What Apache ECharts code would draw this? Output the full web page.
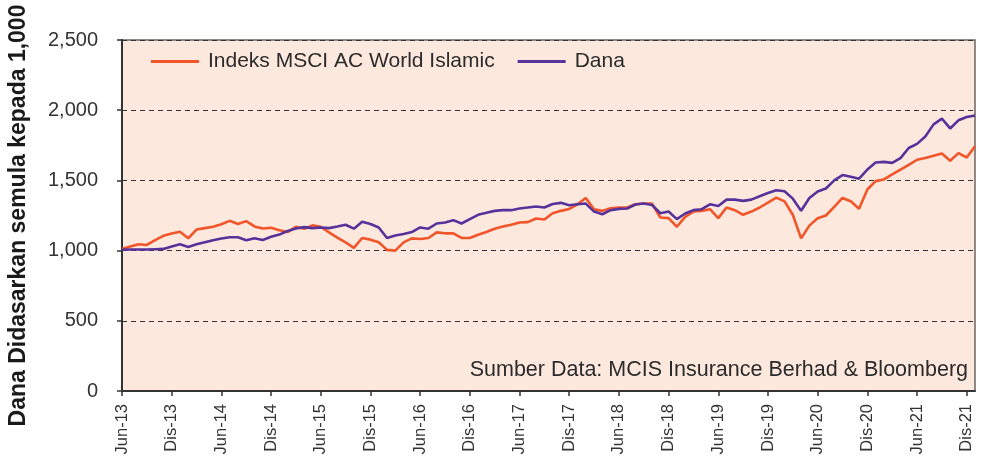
<!DOCTYPE html>
<html>
<head>
<meta charset="utf-8">
<script src="https://cdn.jsdelivr.net/npm/echarts@6/dist/echarts.min.js"></script>
<style>
html,body{margin:0;padding:0;background:#ffffff;}
#chart{width:984px;height:465px;}
</style>
</head>
<body>
<div id="chart"></div>
<script>
// Month names (Malay) used to build the monthly category axis Jun-13 .. Jan-22
var monthNames = ['Jan','Feb','Mac','Apr','Mei','Jun','Jul','Ogo','Sep','Okt','Nov','Dis'];
var startYear = 2013, startMonth = 5, monthCount = 104;

var seriesNames = ['Indeks MSCI AC World Islamic', 'Dana'];

var msciValues = [1012,1030,1045,1040,1075,1105,1122,1135,1088,1150,1160,1170,1188,1212,1190,1210,1172,1157,1163,1145,1132,1170,1155,1180,1170,1130,1093,1059,1019,1090,1078,1059,1005,1000,1059,1087,1083,1090,1130,1123,1123,1090,1090,1113,1132,1156,1172,1184,1200,1203,1229,1222,1266,1283,1297,1330,1375,1295,1283,1302,1307,1307,1330,1335,1335,1236,1231,1170,1240,1278,1283,1295,1231,1307,1288,1255,1278,1307,1342,1377,1351,1255,1087,1178,1231,1250,1312,1375,1351,1298,1435,1495,1507,1543,1577,1611,1647,1659,1675,1692,1640,1694,1663,1743];

var danaValues = [1005,1008,1008,1008,1010,1012,1030,1045,1026,1045,1060,1074,1086,1095,1095,1074,1088,1076,1098,1114,1140,1157,1167,1160,1164,1160,1171,1184,1156,1205,1189,1165,1090,1108,1118,1132,1165,1156,1193,1200,1217,1193,1224,1255,1269,1283,1288,1288,1300,1307,1314,1307,1332,1340,1323,1330,1335,1278,1259,1288,1297,1300,1328,1335,1325,1266,1278,1224,1264,1288,1295,1330,1318,1363,1363,1354,1363,1387,1410,1430,1423,1370,1284,1375,1421,1442,1500,1538,1526,1512,1577,1627,1632,1625,1659,1731,1760,1812,1899,1940,1870,1928,1952,1962];

var yAxisTitle = 'Dana Didasarkan semula kepada 1,000';
var sourceNote = 'Sumber Data: MCIS Insurance Berhad & Bloomberg';

var categories = [];
for (var k = 0; k < monthCount; k++) {
  var m = (startMonth + k) % 12;
  var y = startYear + Math.floor((startMonth + k) / 12);
  categories.push(monthNames[m] + '-' + String(y).slice(2));
}

var FONT = '"Liberation Sans", Arial, Helvetica, sans-serif';
var chart = echarts.init(document.getElementById('chart'), null, {renderer: 'canvas'});

chart.setOption({
  animation: false,
  textStyle: {fontFamily: FONT},
  grid: {
    left: 122, right: 9, top: 40, bottom: 74,
    containLabel: false,
    outerBoundsMode: 'none',
    show: true, backgroundColor: '#fde8de', borderColor: '#6e6460', borderWidth: 1.5
  },
  legend: {
    left: 151, top: 51, padding: 0,
    itemWidth: 48, itemHeight: 3, itemGap: 23,
    icon: 'rect',
    textStyle: {fontSize: 21, color: '#2b2b2b', fontFamily: FONT, padding: [0, 0, 0, 4]},
    data: seriesNames
  },
  xAxis: {
    type: 'category',
    data: categories,
    boundaryGap: false,
    axisLine: {lineStyle: {color: '#333333', width: 2}},
    axisTick: {show: true, interval: 5, length: 5, lineStyle: {color: '#333333', width: 1.5}},
    axisLabel: {interval: 5, rotate: 90, fontSize: 16.5, color: '#333333', margin: 13, fontFamily: FONT},
    splitLine: {show: false}
  },
  yAxis: {
    type: 'value',
    min: 0, max: 2500, interval: 500,
    name: yAxisTitle,
    nameLocation: 'middle',
    nameRotate: 90,
    nameGap: 92,
    nameTextStyle: {fontSize: 23, fontWeight: 'bold', color: '#1a1a1a', fontFamily: FONT},
    axisLine: {show: true, lineStyle: {color: '#333333', width: 2}},
    axisTick: {show: true, length: 5, lineStyle: {color: '#333333', width: 1.5}},
    axisLabel: {
      fontSize: 20, color: '#333333', margin: 24, fontFamily: FONT,
      formatter: function (v) { return v.toLocaleString('en-US'); }
    },
    splitLine: {show: true, lineStyle: {color: '#333333', type: [5, 4], width: 1}}
  },
  series: [
    {
      name: seriesNames[0], type: 'line', data: msciValues, symbol: 'none',
      lineStyle: {color: '#f2552a', width: 2.6}, itemStyle: {color: '#f2552a'}, z: 3
    },
    {
      name: seriesNames[1], type: 'line', data: danaValues, symbol: 'none',
      lineStyle: {color: '#56339a', width: 2.6}, itemStyle: {color: '#56339a'}, z: 4
    }
  ],
  graphic: [
    {
      type: 'text', right: 16, top: 359,
      style: {text: sourceNote, fontSize: 21.5, fill: '#2b2b2b', font: '21.5px ' + FONT}
    }
  ]
});
</script>
</body>
</html>
